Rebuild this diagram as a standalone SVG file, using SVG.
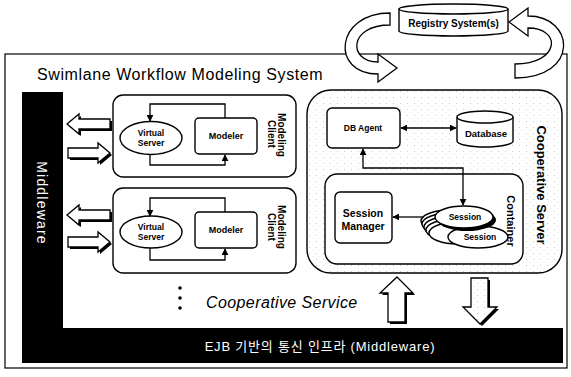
<svg xmlns="http://www.w3.org/2000/svg" width="571" height="377" viewBox="0 0 571 377">
<defs>
<style>
.ln{fill:none;stroke:#000;stroke-width:1.3}
.bx{fill:#fff;stroke:#000;stroke-width:1.4}
.b{font-family:"Liberation Sans",Arial,sans-serif;font-weight:bold;fill:#000}
.w{font-family:"Liberation Sans","Noto Sans CJK KR",sans-serif;fill:#fff}
.blk{fill:#fff;stroke:#000;stroke-width:1.3;stroke-linejoin:miter}
.sh{fill:#000}
</style>
<marker id="ah" viewBox="0 0 10 10" refX="9" refY="5" markerWidth="7" markerHeight="7" orient="auto-start-reverse" markerUnits="userSpaceOnUse">
<path d="M0,0 L10,5 L0,10 Z" fill="#000"/>
</marker>
<pattern id="dots" width="7" height="6" patternUnits="userSpaceOnUse">
<rect width="7" height="6" fill="#fff"/>
<circle cx="1.5" cy="1.5" r="0.45" fill="#999"/>
<circle cx="5" cy="4.5" r="0.35" fill="#bbb"/>
</pattern>
</defs>
<rect width="571" height="377" fill="#fff"/>

<!-- outer frame -->
<g id="frame">
<rect x="5" y="54" width="562" height="314" fill="none" stroke="#000" stroke-width="1.2"/>
<text x="37" y="80" style="font-family:'Liberation Sans',Arial,sans-serif;font-size:16px;letter-spacing:0.6px">Swimlane Workflow Modeling System</text>
</g>

<!-- registry -->
<g id="registry">
<path d="M399,9 V31 A54.5,5 0 0 0 508,31 V9" class="bx"/>
<ellipse cx="453.5" cy="9" rx="54.5" ry="5" class="bx"/>
<text x="453.5" y="27" text-anchor="middle" class="b" font-size="10">Registry System(s)</text>
</g>

<g id="registry-arrows">
<path class="blk" d="M390,13 C335,13 330,74 378,74 L378,82 L397,68 L378,54 L378,62 C348,62 348,25 390,25 Z"/>
<path class="blk" d="M515,78 C580,78 575,16 528,16 L528,8 L509,22 L528,36 L528,28 C562,28 560,64 515,64 Z"/>
</g>

<!-- middleware bars -->
<g id="middleware-bar">
<rect x="22" y="92" width="41" height="271" fill="#000"/>
<text transform="translate(37,203) rotate(90)" text-anchor="middle" class="w" font-size="14" letter-spacing="1.2">Middleware</text>
</g>
<g id="ejb-bar">
<rect x="22" y="328" width="541" height="35" fill="#000"/>
<text x="320" y="351" text-anchor="middle" class="w" font-size="13" letter-spacing="0.8">EJB 기반의 통신 인프라 (Middleware)</text>
</g>

<!-- Modeling client 1 -->
<g id="client1">
<rect x="113" y="95" width="183" height="82" rx="10" class="bx"/>
<ellipse cx="151" cy="138" rx="31" ry="16.5" class="bx"/>
<text x="151" y="136" text-anchor="middle" class="b" font-size="8.5">Virtual</text>
<text x="151" y="146" text-anchor="middle" class="b" font-size="8.5">Server</text>
<rect x="195" y="118" width="62" height="36" rx="4" class="bx"/>
<text x="226" y="139" text-anchor="middle" class="b" font-size="9">Modeler</text>
<text transform="translate(278,135) rotate(90)" text-anchor="middle" class="b" font-size="10">Modeling</text>
<text transform="translate(268,134) rotate(90)" text-anchor="middle" class="b" font-size="10">Client</text>
</g>
<!-- Modeling client 2 -->
<g id="client2">
<rect x="113" y="188" width="183" height="85" rx="10" class="bx"/>
<ellipse cx="151" cy="232" rx="31" ry="16" class="bx"/>
<text x="151" y="230" text-anchor="middle" class="b" font-size="8.5">Virtual</text>
<text x="151" y="240" text-anchor="middle" class="b" font-size="8.5">Server</text>
<rect x="195" y="212" width="62" height="36" rx="4" class="bx"/>
<text x="226" y="233" text-anchor="middle" class="b" font-size="9">Modeler</text>
<text transform="translate(278,227) rotate(90)" text-anchor="middle" class="b" font-size="10">Modeling</text>
<text transform="translate(268,227) rotate(90)" text-anchor="middle" class="b" font-size="10">Client</text>
</g>

<!-- cooperative server -->
<g id="coop-server">
<rect x="307" y="90" width="255" height="183" rx="24" fill="url(#dots)" stroke="#000" stroke-width="1.4"/>
<text transform="translate(537,185) rotate(90)" text-anchor="middle" class="b" font-size="13">Cooperative Server</text>
</g>
<g id="db-agent">
<rect x="327" y="108" width="73" height="40" rx="5" class="bx"/>
<text x="363" y="131" text-anchor="middle" class="b" font-size="8.5">DB Agent</text>
</g>
<g id="database">
<path d="M457,117 V141 A28,6 0 0 0 513,141 V117" class="bx"/>
<ellipse cx="485" cy="117" rx="28" ry="6" class="bx"/>
<text x="486" y="137" text-anchor="middle" class="b" font-size="9.5">Database</text>
</g>
<g id="container">
<rect x="325" y="174" width="198" height="90" rx="12" class="bx"/>
<text transform="translate(507,221) rotate(90)" text-anchor="middle" class="b" font-size="11">Container</text>
</g>
<g id="session-manager">
<rect x="335" y="192" width="57" height="51" rx="5" class="bx"/>
<text x="363" y="217" text-anchor="middle" class="b" font-size="10.5">Session</text>
<text x="363" y="230" text-anchor="middle" class="b" font-size="10.5">Manager</text>
</g>
<g id="sessions">
<ellipse cx="450" cy="221" rx="29" ry="11" class="bx"/>
<ellipse cx="451" cy="224" rx="29" ry="11" class="bx"/>
<ellipse cx="453" cy="227" rx="29" ry="11" class="bx"/>
<ellipse cx="455" cy="230" rx="29" ry="11" class="bx"/>
<ellipse cx="458" cy="233" rx="29" ry="11" class="bx"/>
<ellipse cx="478" cy="237" rx="30" ry="11" class="bx"/>
<text x="480" y="240" text-anchor="middle" class="b" font-size="8.5">Session</text>
<ellipse cx="467" cy="220" rx="29" ry="11" fill="#000"/>
<ellipse cx="464" cy="217" rx="29" ry="11" class="bx"/>
<text x="465" y="220" text-anchor="middle" class="b" font-size="8.5">Session</text>
</g>

<!-- connectors -->
<g id="connectors">
<path class="ln" d="M225,118 V104 H150 V121" marker-end="url(#ah)"/>
<path class="ln" d="M150,155 V165 H225 V155" marker-end="url(#ah)"/>
<path class="ln" d="M225,212 V198 H150 V216" marker-end="url(#ah)"/>
<path class="ln" d="M150,248 V260 H225 V249" marker-end="url(#ah)"/>
<path class="ln" d="M401,128 H456" marker-start="url(#ah)" marker-end="url(#ah)"/>
<path class="ln" d="M363,149 V168 H463 V205" marker-start="url(#ah)" marker-end="url(#ah)"/>
<path class="ln" d="M424,217 H393" marker-end="url(#ah)"/>
<!-- block arrows -->
<g transform="translate(2,2)" class="sh">
<path d="M67,124 L79,114 L79,119 L110,119 L110,129 L79,129 L79,134 Z"/>
<path d="M110,153 L98,143 L98,148 L68,148 L68,158 L98,158 L98,163 Z"/>
<path d="M67,215 L79,205 L79,210 L110,210 L110,220 L79,220 L79,225 Z"/>
<path d="M110,242 L98,232 L98,237 L68,237 L68,247 L98,247 L98,252 Z"/>
<path d="M397,277 L413,293 L405,293 L405,322 L388,322 L388,293 L380,293 Z"/>
<path d="M480,324 L463,307 L471,307 L471,278 L488,278 L488,307 L497,307 Z"/>
</g>
<path class="blk" d="M67,124 L79,114 L79,119 L110,119 L110,129 L79,129 L79,134 Z"/>
<path class="blk" d="M110,153 L98,143 L98,148 L68,148 L68,158 L98,158 L98,163 Z"/>
<path class="blk" d="M67,215 L79,205 L79,210 L110,210 L110,220 L79,220 L79,225 Z"/>
<path class="blk" d="M110,242 L98,232 L98,237 L68,237 L68,247 L98,247 L98,252 Z"/>
<path class="blk" d="M397,277 L413,293 L405,293 L405,322 L388,322 L388,293 L380,293 Z"/>
<path d="M480,324 L463,307 L471,307 L471,278 L488,278 L488,307 L497,307 Z" fill="url(#dots)" stroke="#000" stroke-width="1.3"/>
</g>

<g id="more">
<circle cx="180" cy="288" r="1.8" fill="#000"/>
<circle cx="180" cy="298" r="1.8" fill="#000"/>
<circle cx="180" cy="308" r="1.8" fill="#000"/>
<text x="206" y="308" style="font-family:'Liberation Sans',Arial,sans-serif;font-style:italic;font-size:16px;letter-spacing:0.4px">Cooperative Service</text>
</g>
</svg>
